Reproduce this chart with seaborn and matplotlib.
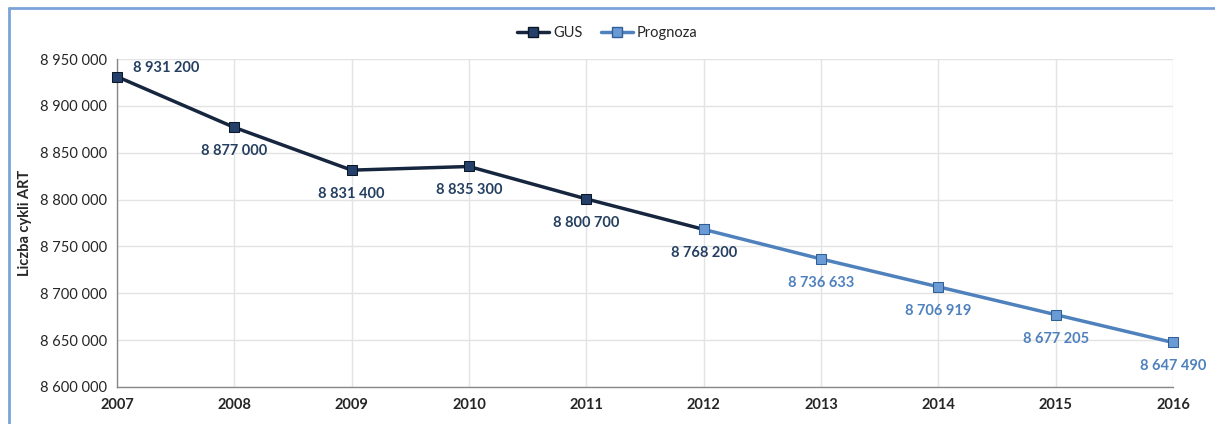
import pandas as pd
import seaborn as sns
import matplotlib.pyplot as plt
from matplotlib.lines import Line2D
from matplotlib.ticker import FuncFormatter

# dane
lata_gus = [2007, 2008, 2009, 2010, 2011, 2012]
gus = [8931200, 8877000, 8831400, 8835300, 8800700, 8768200]
lata_prognoza = [2012, 2013, 2014, 2015, 2016]
prognoza = [8768200, 8736633, 8706919, 8677205, 8647490]

kolor_gus = "#16263f"
kolor_prog = "#4f81bd"
kolor_etykiet_gus = "#243f60"

sns.set_style("whitegrid")
plt.rcParams['font.family'] = ['Lato', 'DejaVu Sans']

df_gus = pd.DataFrame({"rok": lata_gus, "wartosc": gus})
df_prog = pd.DataFrame({"rok": lata_prognoza, "wartosc": prognoza})

fig = plt.figure(figsize=(12.15, 4.24), dpi=100)
ax = fig.add_axes([0.0963, 0.0873, 0.8691, 0.7735])

styl_gus = dict(color=kolor_gus, linewidth=2.5, marker="s", markersize=7,
                markeredgecolor="#0b1626", markerfacecolor="#24406a")
styl_prog = dict(color=kolor_prog, linewidth=2.5, marker="s", markersize=7,
                 markeredgecolor="#2f5f96", markerfacecolor="#6a9bd4")

sns.lineplot(data=df_gus, x="rok", y="wartosc", ax=ax, zorder=3, clip_on=False, **styl_gus)
sns.lineplot(data=df_prog, x="rok", y="wartosc", ax=ax, zorder=4, clip_on=False, **styl_prog)

# etykiety danych
for i, (r, v) in enumerate(zip(lata_gus, gus)):
    etyk = f"{v:,}".replace(",", " ")
    if i == 0:
        ax.annotate(etyk, (r, v), xytext=(16, 9), textcoords="offset pixels",
                    ha="left", va="center", fontsize=10.5, fontweight="bold",
                    color=kolor_etykiet_gus)
    else:
        ax.annotate(etyk, (r, v), xytext=(0, -24), textcoords="offset pixels",
                    ha="center", va="center", fontsize=10.5, fontweight="bold",
                    color=kolor_etykiet_gus)
for r, v in zip(lata_prognoza[1:], prognoza[1:]):
    etyk = f"{v:,}".replace(",", " ")
    ax.annotate(etyk, (r, v), xytext=(0, -24), textcoords="offset pixels",
                ha="center", va="center", fontsize=10.5, fontweight="bold",
                color=kolor_prog)

ax.set_xlim(2007, 2016)
ax.set_ylim(8600000, 8950000)
ax.set_xticks(range(2007, 2017))
ax.set_yticks(range(8600000, 8950001, 50000))
ax.yaxis.set_major_formatter(FuncFormatter(lambda v, p: f"{int(v):,}".replace(",", " ")))
ax.tick_params(axis="x", labelsize=10.5, length=4, color="#888888", pad=4)
ax.tick_params(axis="y", labelsize=10.5, length=4, color="#888888", pad=3)
for t in ax.get_xticklabels():
    t.set_fontweight("bold")
ax.set_xlabel("")
ax.set_ylabel("Liczba cykli ART", fontsize=10.5, fontweight="bold", labelpad=6)
ax.grid(True, color="#e3e3e3", linewidth=1)
for s in ["top", "right"]:
    ax.spines[s].set_visible(False)
for s in ["left", "bottom"]:
    ax.spines[s].set_color("#888888")
    ax.spines[s].set_linewidth(1)

uchwyty = [Line2D([], [], **styl_gus), Line2D([], [], **styl_prog)]
fig.legend(uchwyty, ["GUS", "Prognoza"], loc="center", bbox_to_anchor=(0.5, 0.922),
           ncol=2, frameon=False, fontsize=10.5, handlelength=2.2, columnspacing=1.2,
           handletextpad=0.3)

# ramka wykresu
fig.add_artist(Line2D([0.007, 1.0], [0.981, 0.981], transform=fig.transFigure,
                      color="#7ba3d8", linewidth=2))
fig.add_artist(Line2D([0.007, 0.007], [0.0, 0.981], transform=fig.transFigure,
                      color="#7ba3d8", linewidth=2))

fig.savefig("out.png", dpi=100)
